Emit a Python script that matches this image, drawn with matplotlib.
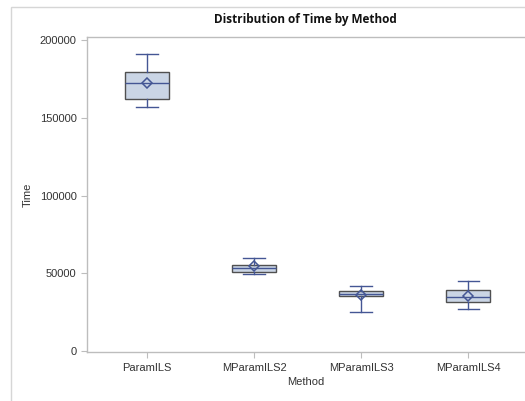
import numpy as np
import matplotlib
matplotlib.use("Agg")
import matplotlib.pyplot as plt
from matplotlib.patches import Rectangle

plt.rcParams['font.family'] = ['Liberation Sans', 'DejaVu Sans']

methods = ["ParamILS", "MParamILS2", "MParamILS3", "MParamILS4"]
whisk_lo = [156900, 49500, 25000, 27000]
q1 = [162000, 50800, 35400, 31500]
median = [172300, 53400, 36600, 34700]
q3 = [179400, 55300, 38600, 39200]
whisk_hi = [191000, 60000, 41800, 45000]
means = [172300, 54400, 36200, 35300]

yticks = [0, 50000, 100000, 150000, 200000]

fill_c = "#CAD5E5"
line_c = "#445694"
edge_c = "#505050"
axis_c = "#BDBDBD"
text_c = "#333333"

fig = plt.figure(figsize=(5.25, 4.01), dpi=100)
fig.patch.set_facecolor("white")
# outer frame of the graph
fig.add_artist(Rectangle((11 / 525, -0.1), 1.2, 1.1 - 7 / 401, transform=fig.transFigure,
                         fill=False, edgecolor="#D6D6D6", lw=1.0))

ax = fig.add_axes([87 / 525, 1 - 352.3 / 401, 1 - 87 / 525, (352.3 - 37) / 401])

stats = []
for i, m in enumerate(methods):
    stats.append(dict(label=m, whislo=whisk_lo[i], q1=q1[i], med=median[i],
                      q3=q3[i], whishi=whisk_hi[i], mean=means[i], fliers=[]))

pos = np.arange(len(methods))
ax.bxp(stats, positions=pos, widths=0.41, patch_artist=True, showmeans=True,
       showfliers=False,
       boxprops=dict(facecolor=fill_c, edgecolor=edge_c, lw=1.0),
       medianprops=dict(color=line_c, lw=1.0),
       whiskerprops=dict(color=line_c, lw=1.0),
       capprops=dict(color=line_c, lw=1.0),
       capwidths=0.2,
       meanprops=dict(marker="D", markerfacecolor="none", markeredgecolor=line_c,
                      markersize=5, markeredgewidth=1.1))

ax.set_xlim(-0.56, 3.53)
ax.set_ylim(-850, 202000)
ax.set_yticks(yticks)
ax.set_yticklabels([str(t) for t in yticks])
ax.set_xticks(pos)
ax.set_xticklabels(methods)

for s in ["left", "bottom", "top"]:
    ax.spines[s].set_color(axis_c)
    ax.spines[s].set_linewidth(1.0)
ax.spines["right"].set_visible(False)
ax.tick_params(colors=axis_c, labelcolor=text_c, labelsize=8, length=4, width=0.8)

ax.set_xlabel("Method", fontsize=8, color=text_c, labelpad=3)
ax.set_ylabel("Time", fontsize=8, color=text_c, labelpad=5)
fig.text(0.582, 1 - 20 / 401, "Distribution of Time by Method", ha="center", va="center",
         fontsize=8.5, fontweight="bold", color="#111111", family=["Open Sans", "DejaVu Sans"])

fig.savefig("out.png", dpi=100)
